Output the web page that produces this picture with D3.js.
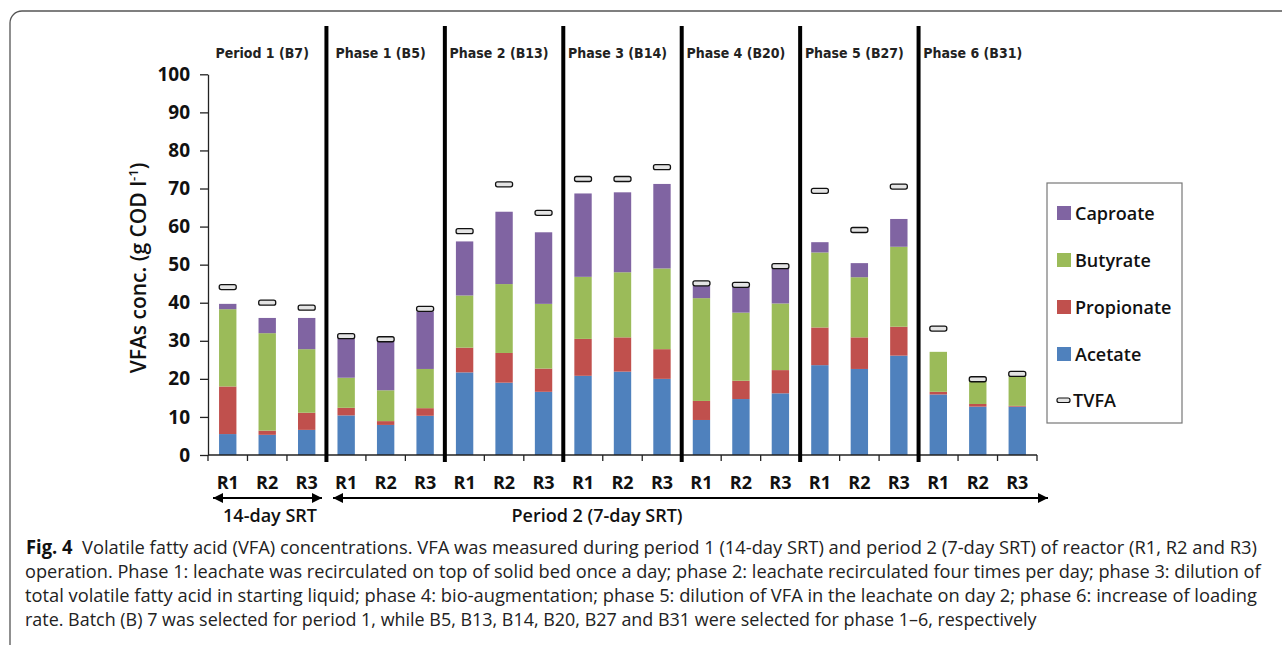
<!DOCTYPE html>
<html>
<head>
<meta charset="utf-8">
<script src="https://cdn.jsdelivr.net/npm/d3@7/dist/d3.min.js"></script>
<style>
  body { margin: 0; background: #fff; }
  svg { display: block; }
</style>
</head>
<body>
<svg id="chart" width="1282" height="645"></svg>
<script>
// Reactor labels along the x axis (3 reactors per batch)
const reactors = ["R1","R2","R3","R1","R2","R3","R1","R2","R3","R1","R2","R3",
                  "R1","R2","R3","R1","R2","R3","R1","R2","R3"];
// Batch headings, one per group of three reactors
const groups = ["Period 1 (B7)","Phase 1 (B5)","Phase 2 (B13)","Phase 3 (B14)",
                "Phase 4 (B20)","Phase 5 (B27)","Phase 6 (B31)"];

// VFA concentrations (g COD l-1)
const acetate    = [5.5,5.3,6.6, 10.4,7.9,10.3, 21.7,19.0,16.6, 20.8,21.9,20.0, 9.2,14.7,16.2, 23.6,22.6,26.1, 15.9,12.7,12.7];
const propionate = [12.5,1.1,4.5, 2.0,1.0,2.0, 6.5,7.8,6.1, 9.7,9.0,7.8, 5.0,4.8,6.1, 9.9,8.3,7.6, 0.7,0.7,0.2];
const butyrate   = [20.3,25.6,16.7, 7.9,8.1,10.3, 13.7,18.1,17.0, 16.3,17.1,21.2, 27.0,17.9,17.5, 19.7,15.8,21.0, 10.5,5.9,7.7];
const caproate   = [1.4,4.0,8.2, 10.3,12.8,15.1, 14.2,19.0,18.8, 21.9,21.0,22.2, 3.2,6.8,9.2, 2.7,3.7,7.3, 0,0,0];
const tvfa       = [44.1,40.0,38.7, 31.2,30.4,38.4, 58.8,71.1,63.6, 72.5,72.5,75.6, 45.1,44.7,49.6, 69.4,59.1,70.5, 33.2,19.9,21.3];

const seriesKeys   = ["acetate","propionate","butyrate","caproate"];
const seriesNames  = ["Acetate","Propionate","Butyrate","Caproate"];
const seriesColors = ["#4F81BD","#C0504D","#9BBB59","#8064A2"];
const yTicks = [0,10,20,30,40,50,60,70,80,90,100];

const captionLines = [
  "Volatile fatty acid (VFA) concentrations. VFA was measured during period 1 (14-day SRT) and period 2 (7-day SRT) of reactor (R1, R2 and R3)",
  "operation. Phase 1: leachate was recirculated on top of solid bed once a day; phase 2: leachate recirculated four times per day; phase 3: dilution of",
  "total volatile fatty acid in starting liquid; phase 4: bio-augmentation; phase 5: dilution of VFA in the leachate on day 2; phase 6: increase of loading",
  "rate. Batch (B) 7 was selected for period 1, while B5, B13, B14, B20, B27 and B31 were selected for phase 1\u20136, respectively"
];

const svg = d3.select("#chart");
const SANS = "'Open Sans', 'Noto Sans', sans-serif";

// outer figure frame
svg.append("rect")
  .attr("x", 10).attr("y", 11).attr("width", 1320).attr("height", 680)
  .attr("rx", 12).attr("fill", "none").attr("stroke", "#555").attr("stroke-width", 1.3);

const plot = { left: 208, right: 1037, top: 74.3, bottom: 455 };

const x = d3.scaleBand()
  .domain(d3.range(reactors.length))
  .range([plot.left, plot.right])
  .paddingInner(0.56).paddingOuter(0.28);

const y = d3.scaleLinear().domain([0, 100]).range([plot.bottom, plot.top]);

const rows = reactors.map((r, i) => ({
  acetate: acetate[i], propionate: propionate[i], butyrate: butyrate[i], caproate: caproate[i]
}));
const stacked = d3.stack().keys(seriesKeys)(rows);

// stacked bars
svg.append("g").selectAll("g")
  .data(stacked).join("g")
  .attr("fill", (d, i) => seriesColors[i])
  .selectAll("rect")
  .data(d => d.map((v, i) => ({ v, i })))
  .join("rect")
  .attr("x", d => x(d.i))
  .attr("width", x.bandwidth())
  .attr("y", d => y(d.v[1]))
  .attr("height", d => Math.max(0, y(d.v[0]) - y(d.v[1])));

// TVFA markers
svg.append("g").selectAll("rect")
  .data(tvfa).join("rect")
  .attr("x", (d, i) => x(i) + x.bandwidth() / 2 - 8.5)
  .attr("y", d => y(d) - 2.5)
  .attr("width", 17).attr("height", 5).attr("rx", 2)
  .attr("fill", "#e4e4e4").attr("stroke", "#111").attr("stroke-width", 1.3);

// y axis
const yAxis = svg.append("g")
  .attr("transform", `translate(${plot.left},0)`)
  .call(d3.axisLeft(y).tickValues(yTicks).tickSize(8).tickSizeOuter(0).tickPadding(10));
yAxis.select(".domain").attr("stroke", "#222").attr("stroke-width", 1.3);
yAxis.selectAll(".tick line").attr("stroke", "#222").attr("stroke-width", 1.3);
yAxis.selectAll(".tick text")
  .attr("font-family", SANS).attr("font-weight", 700).attr("font-size", 19)
  .attr("fill", "#111");

// x axis line with ticks at category boundaries
const step = x.step();
const boundaries = d3.range(reactors.length + 1).map(i => plot.left + i * step);
svg.append("line")
  .attr("x1", plot.left).attr("x2", plot.right)
  .attr("y1", plot.bottom).attr("y2", plot.bottom)
  .attr("stroke", "#222").attr("stroke-width", 1.3);
svg.append("g").selectAll("line")
  .data(boundaries).join("line")
  .attr("x1", d => d).attr("x2", d => d)
  .attr("y1", plot.bottom).attr("y2", plot.bottom + 6)
  .attr("stroke", "#222").attr("stroke-width", 1.3);

// reactor labels
svg.append("g").selectAll("text")
  .data(reactors).join("text")
  .attr("x", (d, i) => x(i) + x.bandwidth() / 2)
  .attr("y", 489)
  .attr("text-anchor", "middle")
  .attr("font-family", SANS).attr("font-weight", 700).attr("font-size", 18)
  .attr("fill", "#111")
  .text(d => d);

// thick separators between batches
svg.append("g").selectAll("line")
  .data(d3.range(1, groups.length)).join("line")
  .attr("x1", g => boundaries[g * 3]).attr("x2", g => boundaries[g * 3])
  .attr("y1", 26).attr("y2", 462)
  .attr("stroke", "#000").attr("stroke-width", 4);

// batch headings
svg.append("g").selectAll("text")
  .data(groups).join("text")
  .attr("x", (d, g) => (boundaries[g * 3] + boundaries[g * 3 + 3]) / 2 - 5)
  .attr("y", 58)
  .attr("text-anchor", "middle")
  .attr("font-family", "'DejaVu Sans Condensed', 'DejaVu Sans', sans-serif")
  .attr("font-stretch", "condensed")
  .attr("font-weight", 700).attr("font-size", 14)
  .attr("fill", "#222")
  .text(d => d);

// y axis title
const yTitle = svg.append("text")
  .attr("transform", "translate(146,268) rotate(-90)")
  .attr("text-anchor", "middle")
  .attr("font-family", SANS).attr("font-weight", 600).attr("font-size", 21)
  .attr("fill", "#111");
yTitle.append("tspan").text("VFAs conc. (g COD l");
yTitle.append("tspan").attr("font-size", 13).attr("dy", -8).text("-1");
yTitle.append("tspan").attr("dy", 8).text(")");

// period arrows
const defs = svg.append("defs");
defs.append("marker")
  .attr("id", "arrowHead")
  .attr("viewBox", "0 0 10 10").attr("refX", 10).attr("refY", 5)
  .attr("markerWidth", 12).attr("markerHeight", 10)
  .attr("markerUnits", "userSpaceOnUse")
  .attr("orient", "auto-start-reverse")
  .append("path").attr("d", "M0,0 L10,5 L0,10 Z").attr("fill", "#000");

const periodArrows = [
  { x1: 213, x2: 322, label: "14-day SRT", lx: 270 },
  { x1: 333, x2: 1048, label: "Period 2 (7-day SRT)", lx: 597 }
];
svg.append("g").selectAll("line")
  .data(periodArrows).join("line")
  .attr("x1", d => d.x1).attr("x2", d => d.x2)
  .attr("y1", 498).attr("y2", 498)
  .attr("stroke", "#000").attr("stroke-width", 2)
  .attr("marker-start", "url(#arrowHead)")
  .attr("marker-end", "url(#arrowHead)");
svg.append("g").selectAll("text")
  .data(periodArrows).join("text")
  .attr("x", d => d.lx).attr("y", 522)
  .attr("text-anchor", "middle")
  .attr("font-family", SANS).attr("font-weight", 600).attr("font-size", 18)
  .attr("fill", "#111")
  .text(d => d.label);

// legend
const legend = svg.append("g");
legend.append("rect")
  .attr("x", 1047).attr("y", 183).attr("width", 135).attr("height", 240)
  .attr("fill", "#fff").attr("stroke", "#777").attr("stroke-width", 1.2);
const legendItems = [3, 2, 1, 0].map(k => ({ name: seriesNames[k], color: seriesColors[k] }));
legendItems.forEach((it, j) => {
  const cy = 213 + j * 47;
  legend.append("rect").attr("x", 1057).attr("y", cy - 7).attr("width", 14).attr("height", 14)
    .attr("fill", it.color);
  legend.append("text").attr("x", 1075).attr("y", cy + 6.5)
    .attr("font-family", SANS).attr("font-weight", 600).attr("font-size", 18)
    .attr("fill", "#111").text(it.name);
});
legend.append("rect").attr("x", 1057).attr("y", 398).attr("width", 13).attr("height", 4.5).attr("rx", 2)
  .attr("fill", "#e4e4e4").attr("stroke", "#111").attr("stroke-width", 1.2);
legend.append("text").attr("x", 1073).attr("y", 407)
  .attr("font-family", SANS).attr("font-weight", 600).attr("font-size", 18)
  .attr("fill", "#111").text("TVFA");

// figure caption: each line is set in a narrow face by scaling it horizontally
// so that the paragraph is justified between the frame margins
const capSpec = [
  { x: 26, w: 1232, y: 554 },
  { x: 25, w: 1237, y: 578 },
  { x: 25, w: 1233, y: 602 },
  { x: 25, w: 1012, y: 626 }
];
captionLines.forEach((line, i) => {
  const g = svg.append("g");
  const t = g.append("text")
    .attr("x", 0).attr("y", 0)
    .attr("font-family", SANS).attr("font-size", 19).attr("fill", "#222");
  if (i === 0) {
    t.append("tspan").attr("font-weight", 700).attr("fill", "#111").text("Fig. 4");
    t.append("tspan").text("\u00a0 " + line);
  } else {
    t.text(line);
  }
  const natural = t.node().getComputedTextLength();
  const sx = capSpec[i].w / natural;
  g.attr("transform", `translate(${capSpec[i].x},${capSpec[i].y}) scale(${sx},1)`);
});
</script>
</body>
</html>
